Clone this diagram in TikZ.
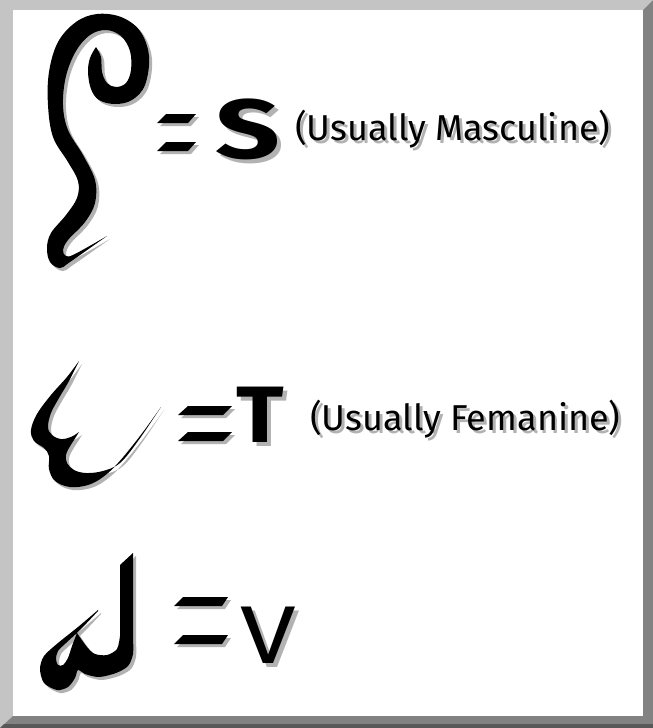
\documentclass[tikz,border=0pt]{standalone}
\usepackage{fontspec}
\setmainfont{Fira Sans}
\usepackage{graphicx}
\definecolor{FrameLight}{RGB}{196,196,196}
\definecolor{FrameDark}{RGB}{130,130,130}
\definecolor{FrameDeep}{RGB}{88,88,88}
\definecolor{ShadowClr}{RGB}{178,178,178}

\newcommand\shd[2][3pt]{\rlap{\kern#1\raisebox{-#1}{\color{ShadowClr}#2}}#2}

\newcommand\GlyphS{plot[smooth,tension=.6] coordinates {(107,236) (70,262) (60,268) (50,262) (47,248) (51,233) (66,215) (77,198) (78,181) (68,162) (53,137) (48,105) (49,72) (58,42) (76,22) (97,14) (121,17) (140,31) (149,56) (145,85) (132,100) (115,104) (99,100) (91,89) (88,72) (90,58) (96,47)}
  -- plot[smooth,tension=.6] coordinates {(96,47) (101,57) (102,72) (107,83) (116,87) (126,83) (131,70) (130,51) (121,36) (106,30) (90,35) (76,51) (66,76) (63,105) (68,130) (83,155) (95,180) (95,203) (85,222) (68,240) (63,250) (66,256) (75,254) (107,236)} -- cycle}
\newcommand\GlyphT{plot[smooth,tension=.6] coordinates {(79,361) (67,377) (51,395) (37,414) (31,430) (34,441) (44,448) (49,456) (49,469) (55,481) (70,487) (88,485) (103,477) (118,463) (140,436) (161,407)}
  -- plot[smooth,tension=.6] coordinates {(161,407) (138,441) (120,463) (103,471) (86,473) (74,470) (67,463) (66,455) (69,448) (74,440) (79,432)}
  -- plot[smooth,tension=.6] coordinates {(79,432) (71,437) (61,439) (52,435) (48,427) (51,413) (59,398) (69,381) (79,361)} -- cycle}
\newcommand\GlyphV{plot[smooth,tension=.5] coordinates {(98,610) (78,627) (58,643) (44,656) (40,669) (44,683) (57,690) (68,687) (75,678) (78,670) (85,674) (99,677) (116,673) (128,666) (133,654) (133,638)}
  -- (133,553) -- (120,565) -- (120,636)
  -- plot[smooth,tension=.5] coordinates {(120,636) (117,649) (107,655) (95,654) (87,647) (77,633)}
  -- plot[smooth,tension=.5] coordinates {(77,633) (72,646) (68,658) (63,665) (58,665) (56,659) (58,651) (66,643) (80,630) (98,611)} -- cycle}

\begin{document}
\begin{tikzpicture}[x=1pt,y=-1pt,
  ink/.style={fill=black},
  shade/.style={fill=ShadowClr,shift={(3,3)}},
  lbl/.style={anchor=base west,inner sep=0pt,font=\fontsize{36}{40}\selectfont},
  big/.style={anchor=base west,inner sep=0pt,font=\fontsize{84}{88}\selectfont\bfseries}]
\useasboundingbox (0,0) rectangle (653,728);

\fill[FrameLight] (0,0) -- (653,0) -- (643,10) -- (13,10) -- (13,716) -- (0,728) -- cycle;
\fill[FrameDark] (653,0) -- (653,728) -- (0,728) -- (13,716) -- (643,716) -- (643,10) -- cycle;
\fill[FrameDeep] (4,724) -- (653,724) -- (653,728) -- (0,728) -- cycle;
\fill[white] (13,10) rectangle (643,716);

% S row
\fill[shade] \GlyphS;
\fill[ink] \GlyphS;
\foreach \yy in {0,28}{
  \fill[shade] (166,114+\yy) -- (196,114+\yy) -- (188,123+\yy) -- (157,123+\yy) -- cycle;
  \fill[ink] (166,114+\yy) -- (196,114+\yy) -- (188,123+\yy) -- (157,123+\yy) -- cycle;
}
\node[big] (S) at (215,158) {\shd[4pt]{\scalebox{1.35}[1]{S}}};
\node[lbl] (masc) at (295,140) {\shd{(Usually Masculine)}};

% T row
\fill[shade] \GlyphT;
\fill[ink] \GlyphT;
\foreach \yy in {0,26}{
  \fill[shade] (188,406+\yy) -- (232,406+\yy) -- (223,415+\yy) -- (178,415+\yy) -- cycle;
  \fill[ink] (188,406+\yy) -- (232,406+\yy) -- (223,415+\yy) -- (178,415+\yy) -- cycle;
}
\node[big,font=\fontsize{80}{84}\selectfont\bfseries] (T) at (236,442) {\shd[4pt]{\scalebox{1.1}[1]{T}}};
\node[lbl] (fem) at (310,430) {\shd{(Usually Femanine)}};

% V row
\fill[shade] \GlyphV;
\fill[ink] \GlyphV;
\foreach \yy in {0,38}{
  \fill[shade] (183,597+\yy) -- (228,597+\yy) -- (222,606+\yy) -- (174,606+\yy) -- cycle;
  \fill[ink] (183,597+\yy) -- (228,597+\yy) -- (222,606+\yy) -- (174,606+\yy) -- cycle;
}
\node[big,font=\fontsize{82}{86}\selectfont] (V) at (240,663) {\shd[4pt]{\scalebox{1.22}[1]{V}}};
\end{tikzpicture}
\end{document}
